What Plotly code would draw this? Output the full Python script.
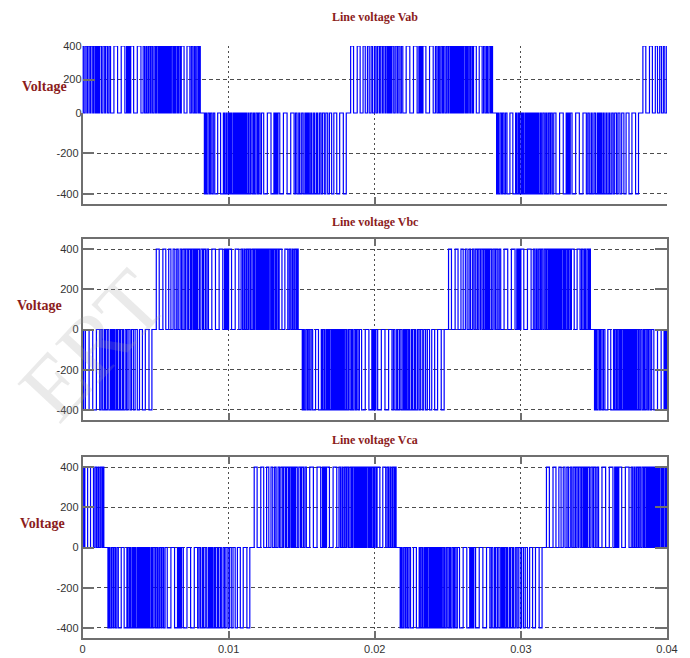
import numpy as np
import plotly.graph_objects as go

W, H = 690, 658

# ---------------- data ----------------
AMPLITUDE = 400            # V, pulse height
HALF_PERIOD = 0.010        # s, length of one half cycle
T_MAX = 0.04

# start time (s) of each positive half cycle; the negative half follows it
vab_pos_starts = [-0.0018, 0.0182, 0.0382]
vbc_pos_starts = [-0.0151, 0.0049, 0.0249]
vca_pos_starts = [-0.0084, 0.0116, 0.0316]

# switching instants inside a positive half cycle (ms from its start)
pulse_edges_ms = [
    0.15, 0.35, 0.6, 0.8, 1.0, 1.15, 1.3, 1.42, 1.55, 1.65,
    1.78, 1.88, 1.98, 2.1, 2.18, 2.3, 2.38, 2.5, 2.58,
    2.68, 2.74, 2.8, 2.86, 2.92, 2.98,
    3.1, 3.2, 3.32, 3.4, 3.52, 3.62, 3.72,
    3.95, 4.2, 4.45, 4.7,
    4.82, 4.9, 4.96, 5.04, 5.1,
    5.3, 5.55, 5.8,
    5.95, 6.05, 6.15, 6.22, 6.32, 6.42, 6.5, 6.6, 6.7, 6.8, 6.88,
    6.98, 7.04, 7.1, 7.16, 7.22, 7.28, 7.34, 7.4, 7.46, 7.52, 7.58,
    7.64, 7.7, 7.76, 7.82, 7.88,
    7.98, 8.06, 8.14, 8.2, 8.3, 8.38, 8.48, 8.56,
    8.75, 8.95, 9.15,
    9.25, 9.35, 9.45, 9.52, 9.62, 9.72, 9.8, 9.86,
]

titles = ["Line voltage Vab", "Line voltage Vbc", "Line voltage Vca"]
y_label = "Voltage"
x_ticks = [0, 0.01, 0.02, 0.03, 0.04]
x_tick_text = ["0", "0.01", "0.02", "0.03", "0.04"]
y_ticks = [-400, -200, 0, 200, 400]
y_tick_text = ["-400", "-200", "0", "200", "400"]


def build_wave(pos_starts):
    edges = np.array(pulse_edges_ms) / 1000.0
    t, v = [], []
    for s in pos_starts:
        for sign, start, e in ((1, s, edges),
                               (-1, s + HALF_PERIOD, HALF_PERIOD - edges[::-1])):
            t.append(start)
            v.append(0)
            for i, te in enumerate(e):
                t.append(start + te)
                v.append(sign * AMPLITUDE if i % 2 == 0 else 0)
            t.append(start + HALF_PERIOD)
            v.append(0)
    return t, v


waves = [build_wave(vab_pos_starts), build_wave(vbc_pos_starts), build_wave(vca_pos_starts)]

# ---------------- styling ----------------
BLUE = "#0000FF"
LINE_W = 1.2
FRAME = "#6f6f6f"
GRID = "#4d4d4d"
TITLE_COLOR = "#8b1c1c"
tick_font = dict(family="Liberation Sans, Arial, sans-serif", size=11, color="#333333")
XDOM = [82.5 / W, 667.0 / W]


def ydom(top_px, bot_px):
    return [1 - bot_px / H, 1 - top_px / H]


def x_axis(anchor, labels, mirror):
    return dict(domain=XDOM, range=[0, T_MAX], anchor=anchor, automargin=False,
                tickvals=x_ticks, ticktext=x_tick_text, showticklabels=labels,
                ticks="inside", ticklen=7, tickcolor=FRAME, tickwidth=1.5,
                showline=True, linecolor=FRAME, linewidth=1.5, mirror=mirror,
                showgrid=True, gridcolor=GRID, griddash="2px,3px", gridwidth=1,
                zeroline=False, tickfont=tick_font)


def y_axis(dom, rng, vals, showline, mirror, anchor):
    txt = [y_tick_text[y_ticks.index(v)] for v in vals]
    return dict(domain=dom, range=rng, anchor=anchor, automargin=False,
                tickvals=vals, ticktext=txt,
                ticks="inside", ticklen=12, tickcolor=FRAME, tickwidth=1.5,
                showline=showline, linecolor=FRAME, linewidth=1.5, mirror=mirror,
                showgrid=True, gridcolor=GRID, griddash="4px,3px", gridwidth=1,
                zeroline=False, tickfont=tick_font)


fig = go.Figure()

# top plot: positive half on y, negative half on y2 (shared x)
t, v = waves[0]
for ya in ("y", "y2"):
    fig.add_trace(go.Scatter(x=t, y=v, mode="lines", xaxis="x", yaxis=ya,
                             line=dict(color=BLUE, width=LINE_W, shape="hv"),
                             showlegend=False, hoverinfo="skip"))
t, v = waves[1]
fig.add_trace(go.Scatter(x=t, y=v, mode="lines", xaxis="x2", yaxis="y3",
                         line=dict(color=BLUE, width=LINE_W, shape="hv"),
                         showlegend=False, hoverinfo="skip"))
t, v = waves[2]
fig.add_trace(go.Scatter(x=t, y=v, mode="lines", xaxis="x3", yaxis="y4",
                         line=dict(color=BLUE, width=LINE_W, shape="hv"),
                         showlegend=False, hoverinfo="skip"))

ya1 = y_axis(ydom(46, 113), [0, 400], [0, 200, 400], False, False, "x")
ya2 = y_axis(ydom(113, 204), [-450, 0], [-400, -200], True, False, "x")
ya3 = y_axis(ydom(239, 420), [-450, 450], y_ticks, True, "ticks", "x2")
ya4 = y_axis(ydom(457, 638), [-450, 450], y_ticks, True, "ticks", "x3")

annotations = []
title_pos = [(375, 17), (375, 222), (375, 440)]
for txt, (px, py) in zip(titles, title_pos):
    annotations.append(dict(text="<b>%s</b>" % txt, x=px / W, y=1 - py / H,
                            xref="paper", yref="paper", showarrow=False,
                            xanchor="center", yanchor="middle",
                            font=dict(family="Liberation Serif, Times New Roman, serif",
                                      size=12, color=TITLE_COLOR)))
label_pos = [(44, 86), (39, 305), (42, 523)]
for px, py in label_pos:
    annotations.append(dict(text="<b>%s</b>" % y_label, x=px / W, y=1 - py / H,
                            xref="paper", yref="paper", showarrow=False,
                            xanchor="center", yanchor="middle",
                            font=dict(family="Liberation Serif, Times New Roman, serif",
                                      size=14, color=TITLE_COLOR)))
# watermark
annotations.append(dict(text="ERT", x=92 / W, y=1 - 345 / H, xref="paper", yref="paper",
                        showarrow=False, textangle=-47, xanchor="center", yanchor="middle",
                        font=dict(family="Liberation Serif, Times New Roman, serif",
                                  size=90, color="rgba(160,160,160,0.22)")))

fig.update_layout(
    width=W, height=H, autosize=False,
    margin=dict(l=0, r=0, t=0, b=0, pad=0),
    paper_bgcolor="white", plot_bgcolor="white",
    showlegend=False,
    xaxis=x_axis("y2", False, False),
    xaxis2=x_axis("y3", False, "ticks"),
    xaxis3=x_axis("y4", True, "ticks"),
    yaxis=ya1, yaxis2=ya2, yaxis3=ya3, yaxis4=ya4,
    annotations=annotations,
)

fig.write_html("out.html", config={"displayModeBar": False},
               post_script="document.body.style.margin='0';document.body.style.overflow='hidden';")
